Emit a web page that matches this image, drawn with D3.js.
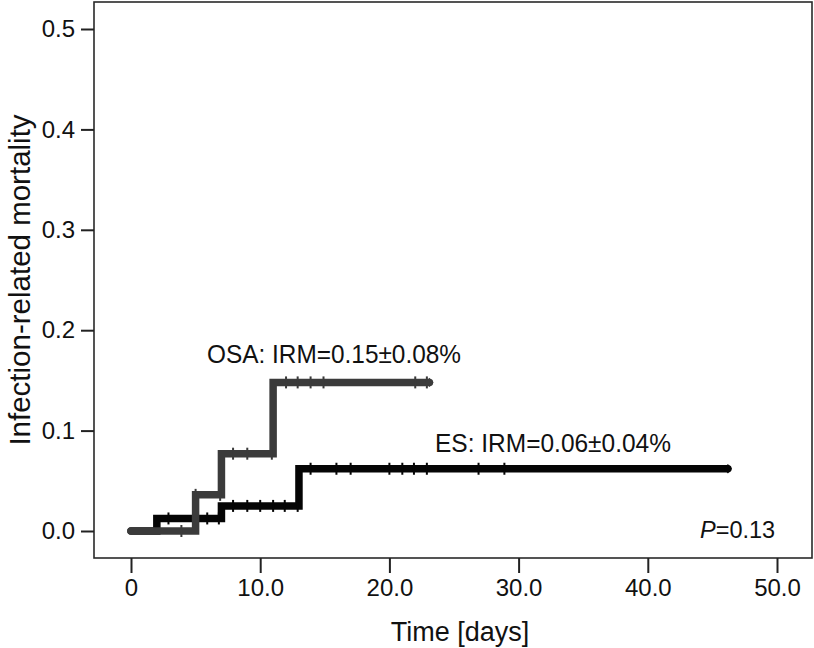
<!DOCTYPE html>
<html>
<head>
<meta charset="utf-8">
<script src="https://cdn.jsdelivr.net/npm/d3@7/dist/d3.min.js"></script>
<style>
  html, body { margin: 0; padding: 0; background: #fff; }
  svg { display: block; font-family: "Liberation Sans", Arial, Helvetica, sans-serif; }
</style>
</head>
<body>
<svg id="chart" width="814" height="648"></svg>
<script>
// ---- data ----
const osaTimes  = [0, 5, 7, 11, 23.1];
const osaValues = [0, 0.036, 0.077, 0.148, 0.148];
const osaCensor = [3.9, 5.0, 6.9, 7.9, 9.0, 10.9, 12.0, 12.9, 13.9, 14.9, 22.0, 22.9];

const esTimes  = [0, 2, 7, 13, 46.2];
const esValues = [0, 0.0125, 0.025, 0.062, 0.062];
const esCensor = [2.9, 5.0, 5.9, 6.8, 7.9, 9.0, 10.0, 11.0, 11.9, 12.9, 13.9, 15.9, 17.0, 20.0, 21.0, 21.9, 22.9, 26.9, 28.9];

const xTicks = [0, 10, 20, 30, 40, 50];
const xTickLabels = ["0", "10.0", "20.0", "30.0", "40.0", "50.0"];
const yTicks = [0, 0.1, 0.2, 0.3, 0.4, 0.5];
const yTickLabels = ["0.0", "0.1", "0.2", "0.3", "0.4", "0.5"];

const seriesNames = ["ES", "OSA"];
const annotations = ["ES: IRM=0.06±0.04%", "OSA: IRM=0.15±0.08%"];
const pLabel = "=0.13";

// ---- layout ----
const svg = d3.select("#chart");
const frame = {left: 94, top: 2, right: 812, bottom: 558};
const x = d3.scaleLinear().domain([0, 50]).range([131, 777]);
const y = d3.scaleLinear().domain([0, 0.5]).range([531, 29]);

// frame
svg.append("rect")
  .attr("x", frame.left).attr("y", frame.top)
  .attr("width", frame.right - frame.left).attr("height", frame.bottom - frame.top)
  .attr("fill", "none").attr("stroke", "#2a2a2a").attr("stroke-width", 1.6);

// axes
const xAxis = svg.append("g").attr("transform", `translate(0,${frame.bottom})`)
  .call(d3.axisBottom(x).tickValues(xTicks).tickFormat((d, i) => xTickLabels[i]).tickSize(15).tickPadding(6));
const yAxis = svg.append("g").attr("transform", `translate(${frame.left},0)`)
  .call(d3.axisLeft(y).tickValues(yTicks).tickFormat((d, i) => yTickLabels[i]).tickSize(13).tickPadding(6));
[xAxis, yAxis].forEach(g => {
  g.select(".domain").remove();
  g.selectAll(".tick line").attr("stroke", "#222").attr("stroke-width", 2);
  g.selectAll(".tick text").attr("fill", "#111").style("font-size", "24px");
});

// axis titles
svg.append("text").attr("x", 460).attr("y", 641)
  .attr("text-anchor", "middle").style("font-size", "27px").attr("fill", "#111")
  .text("Time [days]");
svg.append("text").attr("transform", `translate(30,${(frame.top + frame.bottom) / 2}) rotate(-90)`)
  .attr("text-anchor", "middle").style("font-size", "29.5px").attr("fill", "#111")
  .text("Infection-related mortality");

// curves
const stepLine = d3.line().x(d => x(d[0])).y(d => y(d[1])).curve(d3.curveStepAfter);
function valueAt(times, values, t) {
  let v = values[0];
  for (let i = 0; i < times.length; i++) if (times[i] <= t) v = values[i];
  return v;
}
function drawSeries(times, values, censor, color) {
  const pts = times.map((t, i) => [t, values[i]]);
  const g = svg.append("g");
  g.append("path").attr("d", stepLine(pts))
    .attr("fill", "none").attr("stroke", color).attr("stroke-width", 7.5)
    .attr("stroke-linejoin", "miter").attr("stroke-linecap", "round");
  g.selectAll("line.c").data(censor).join("line").attr("class", "c")
    .attr("x1", d => x(d)).attr("x2", d => x(d))
    .attr("y1", d => y(valueAt(times, values, d)) - 6)
    .attr("y2", d => y(valueAt(times, values, d)) + 6)
    .attr("stroke", color).attr("stroke-width", 2);
  // end marker
  const tEnd = times[times.length - 1], vEnd = values[values.length - 1];
  g.append("path")
    .attr("d", d3.symbol(d3.symbolDiamond, 40)())
    .attr("transform", `translate(${x(tEnd)},${y(vEnd)}) scale(1.2,0.8)`)
    .attr("fill", color);
}
drawSeries(esTimes, esValues, esCensor, "#050505");
drawSeries(osaTimes, osaValues, osaCensor, "#3b3b3b");

// annotations
svg.append("text").attr("x", 207).attr("y", 363).style("font-size", "25.5px").attr("fill", "#111")
  .attr("textLength", 254).attr("lengthAdjust", "spacingAndGlyphs")
  .text(annotations[1]);
svg.append("text").attr("x", 435).attr("y", 452).style("font-size", "25.5px").attr("fill", "#111")
  .attr("textLength", 236).attr("lengthAdjust", "spacingAndGlyphs")
  .text(annotations[0]);
const pt = svg.append("text").attr("x", 700).attr("y", 538).style("font-size", "23.5px").attr("fill", "#111");
pt.append("tspan").style("font-style", "italic").text("P");
pt.append("tspan").text(pLabel);
</script>
</body>
</html>
